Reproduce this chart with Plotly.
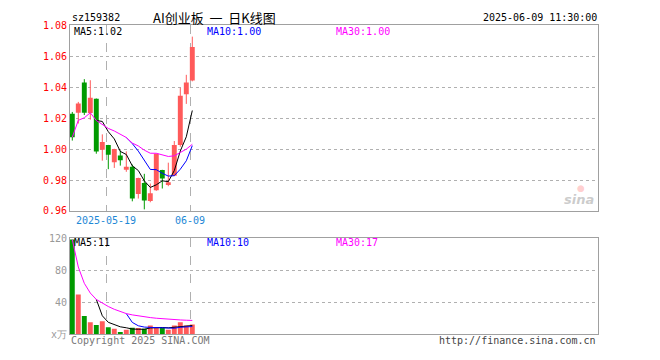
import numpy as np
import plotly.graph_objects as go

# ---------------- data ----------------
dates = ["2025-05-09", "2025-05-12", "2025-05-13", "2025-05-14", "2025-05-15", "2025-05-16",
         "2025-05-19", "2025-05-20", "2025-05-21", "2025-05-22", "2025-05-23",
         "2025-05-26", "2025-05-27", "2025-05-28", "2025-05-29", "2025-05-30",
         "2025-06-03", "2025-06-04", "2025-06-05", "2025-06-06", "2025-06-09"]
opens = [1.0229, 1.0235, 1.0430, 1.0233, 1.0326, 0.9996, 1.0026, 0.9915, 0.9958, 0.9866, 0.9886,
         0.9710, 0.9780, 0.9665, 0.9733, 0.9865, 0.9767, 0.9827, 1.0027, 1.0354, 1.0444]
highs = [1.0240, 1.0305, 1.0452, 1.0445, 1.0327, 1.0095, 1.0027, 1.0002, 0.9990, 0.9985, 0.9900,
         0.9815, 0.9840, 0.9777, 0.9970, 0.9866, 0.9912, 1.0052, 1.0396, 1.0480, 1.0727]
lows = [1.0055, 1.0165, 1.0220, 1.0190, 0.9970, 0.9925, 0.9870, 0.9878, 0.9893, 0.9853, 0.9662,
        0.9680, 0.9610, 0.9656, 0.9730, 0.9745, 0.9760, 0.9825, 1.0015, 1.0292, 1.0438]
closes = [1.0077, 1.0295, 1.0235, 1.0332, 0.9985, 1.0046, 0.9964, 1.0001, 0.9928, 0.9885, 0.9680,
          0.9813, 0.9667, 0.9715, 0.9969, 0.9810, 0.9785, 1.0027, 1.0345, 1.0430, 1.0660]
volumes = [118, 49.6, 22.8, 14.8, 11.6, 16, 8.8, 6.8, 2.8, 5.6, 8,
           7.6, 6.8, 10.8, 8.8, 7.6, 5.6, 10.8, 14.8, 10.8, 12]
marked_dates = ["2025-05-19", "2025-06-09"]
marked_labels = ["2025-05-19", "06-09"]
price_ticks = [0.96, 0.98, 1.00, 1.02, 1.04, 1.06, 1.08]
vol_ticks = [0, 40, 80, 120]
vol_ticktext = ["x万", "40", "80", "120"]

title_code = "sz159382"
title_name = "AI创业板\u00a0\u00a0一\u00a0\u00a0日K线图"
title_time = "2025-06-09 11:30:00"

# ---------------- styling ----------------
W, H = 660, 360
RED = "#ff5a5a"
GREEN = "#009a00"
BORDER = "#a0a0a0"
GRID = "#b0b0b0"
MONO = "DejaVu Sans Mono"

def px(x, y):
    return x / W, 1 - y / H

n = len(closes)
idx = np.arange(n)
o = np.array(opens); c = np.array(closes); hi = np.array(highs); lo = np.array(lows)
v = np.array(volumes, dtype=float)

def rolling(a, k):
    out = np.full(len(a), np.nan)
    for i in range(k - 1, len(a)):
        out[i] = a[i - k + 1:i + 1].mean()
    return out

def expanding(a, k):
    out = np.full(len(a), np.nan)
    for i in range(len(a)):
        out[i] = a[max(0, i - k + 1):i + 1].mean()
    return out

ma5, ma10, ma30 = rolling(c, 5), rolling(c, 10), expanding(c, 30)
vma5, vma10, vma30 = rolling(v, 5), rolling(v, 10), expanding(v, 30)

up = c >= o
colors = [RED if u else GREEN for u in up]

fig = go.Figure()

# candle bodies
fig.add_trace(go.Bar(x=idx, y=np.maximum(np.abs(c - o), 0.0004), base=np.minimum(o, c),
                     marker=dict(color=colors, line=dict(width=0)), width=0.82,
                     xaxis="x", yaxis="y"))
# wicks
for col, mask in ((RED, up), (GREEN, ~up)):
    xs, ys = [], []
    for i in idx[mask]:
        xs += [i, i, None]
        ys += [lo[i], hi[i], None]
    fig.add_trace(go.Scatter(x=xs, y=ys, mode="lines", line=dict(color=col, width=1),
                             xaxis="x", yaxis="y"))
# MA lines price
for arr, col in ((ma5, "#000000"), (ma10, "#0000ff"), (ma30, "#ff00ff")):
    fig.add_trace(go.Scatter(x=idx, y=arr, mode="lines", line=dict(color=col, width=1),
                             xaxis="x", yaxis="y"))

# volume bars
fig.add_trace(go.Bar(x=idx, y=v, marker=dict(color=colors, line=dict(width=0)), width=0.82,
                     xaxis="x2", yaxis="y2"))
for arr, col in ((vma5, "#000000"), (vma10, "#0000ff"), (vma30, "#ff00ff")):
    fig.add_trace(go.Scatter(x=idx, y=arr, mode="lines", line=dict(color=col, width=1),
                             xaxis="x2", yaxis="y2"))

mark_pos = [dates.index(d) - 0.38 for d in marked_dates]
xr = [-0.383, 87.617]
xdom = [70 / W, 598 / W]

common_x = dict(range=xr, domain=xdom, showline=True, mirror=True, linecolor=BORDER, linewidth=1,
                zeroline=False, tickvals=mark_pos, showgrid=True, gridcolor=GRID, griddash="dash",
                gridwidth=1, ticks="", fixedrange=True)
fig.update_layout(
    xaxis=dict(**common_x, ticktext=marked_labels, showticklabels=True,
               tickfont=dict(family=MONO, size=10, color="#1e88d6"), anchor="y"),
    xaxis2=dict(**common_x, showticklabels=False, anchor="y2"),
    yaxis=dict(range=[0.96, 1.08], domain=[1 - 212 / H, 1 - 20 / H], tickvals=price_ticks,
               ticktext=[f"{t:.2f}" for t in price_ticks],
               tickfont=dict(family=MONO, size=10, color="#ff0000"),
               showline=True, mirror=True, linecolor=BORDER, linewidth=1,
               showgrid=True, gridcolor=GRID, griddash="dot", zeroline=False, ticks="",
               anchor="x"),
    yaxis2=dict(range=[0, 120], domain=[1 - 339.5 / H, 1 - 240 / H], tickvals=vol_ticks,
                ticktext=vol_ticktext,
                tickfont=dict(family=MONO, size=10, color="#999999"),
                showline=True, mirror=True, linecolor=BORDER, linewidth=1,
                showgrid=True, gridcolor=GRID, griddash="dot", zeroline=False, ticks="",
                anchor="x2"),
    width=W, height=H, margin=dict(l=0, r=0, t=0, b=0),
    plot_bgcolor="white", paper_bgcolor="white", showlegend=False,
    barmode="overlay", hovermode=False,
)

def ann(text, x, y, color="#000", size=10, family=MONO, anchor="left"):
    ax, ay = px(x, y)
    fig.add_annotation(text=text, x=ax, y=ay, xref="paper", yref="paper", showarrow=False,
                       xanchor=anchor, yanchor="middle",
                       font=dict(family=family, size=size, color=color))

ann(title_code, 70, 12)
ann(title_name, 214, 12, size=13, family="Noto Sans CJK SC", anchor="center")
ann(title_time, 599, 12, anchor="right")

ann(f"MA5:{ma5[-1]:.2f}", 72, 26, "#000000")
ann(f"MA10:{ma10[-1]:.2f}", 205, 26, "#0000ff")
ann(f"MA30:{ma30[-1]:.2f}", 334, 26, "#ff00ff")

ann(f"MA5:{vma5[-1]:.0f}", 72, 245, "#000000")
ann(f"MA10:{vma10[-1]:.0f}", 205, 245, "#0000ff")
ann(f"MA30:{vma30[-1]:.0f}", 334, 245, "#ff00ff")

ann("Copyright 2025 SINA.COM", 69, 346, "#777777")
ann("http://finance.sina.com.cn", 598, 346, "#444444", anchor="right")
ann("<i><b>sina</b></i>", 596, 200, "rgba(160,160,160,0.55)", size=13,
    family="DejaVu Sans", anchor="right")
ann("●", 581, 188, "rgba(255,120,120,0.35)", size=9, family="DejaVu Sans", anchor="center")

fig.write_html("out.html", config={"staticPlot": True},
               post_script="document.body.style.margin='0px';document.body.style.padding='0px';")
